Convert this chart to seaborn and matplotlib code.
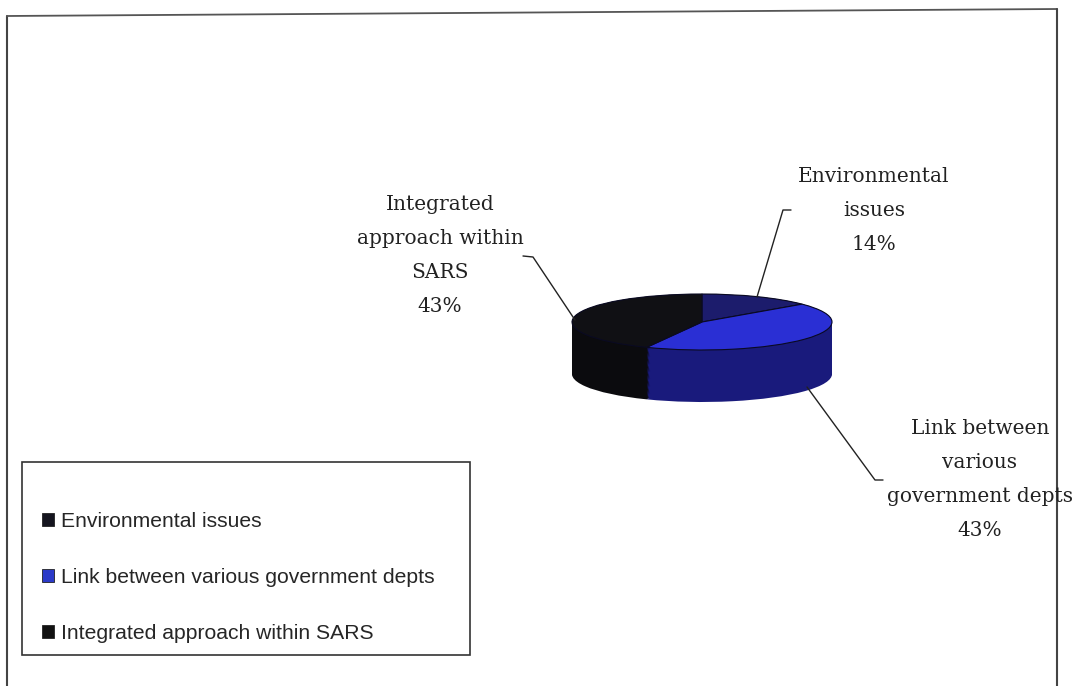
import matplotlib
matplotlib.use("Agg")
import matplotlib.pyplot as plt
from matplotlib.patches import Rectangle
import seaborn as sns

# ---- data ----
categories = ["Environmental issues",
              "Link between various government depts",
              "Integrated approach within SARS"]
shares = [14, 43, 43]
slice_labels = ["Environmental\nissues",
                "Link between\nvarious\ngovernment depts",
                "Integrated\napproach within\nSARS"]

sns.set_theme(style="white")
plt.rcParams["font.family"] = ["DejaVu Sans"]

W, H = 1075, 686
fig = plt.figure(figsize=(W / 100, H / 100), dpi=100)
fig.patch.set_facecolor("white")


def fx(x):
    return x / W


def fy(y):
    return 1 - y / H


top_colors = ["#1c1c6c", "#2a2fd4", "#101014"]
side_colors = ["#14144f", "#191a7c", "#0b0b0e"]

# ---- 3D-looking pie ----
cx, cy, rx, ry, thick = 702, 322, 130, 28, 52
ax = fig.add_axes([fx(cx - rx), fy(cy + thick + ry), 2 * rx / W, (2 * ry + thick) / H])
t = thick / ry
n = 45
for k in range(n + 1):
    off = -t + t * k / n
    ax.pie(shares, colors=side_colors, startangle=90, counterclock=False,
           center=(0, off), radius=1, wedgeprops=dict(linewidth=0))
wedges, _ = ax.pie(shares, colors=top_colors, startangle=90, counterclock=False,
                   center=(0, 0), radius=1,
                   wedgeprops=dict(linewidth=0.8, edgecolor="#0a0a22"))
ax.set_xlim(-1, 1)
ax.set_ylim(-1 - t, 1)
ax.set_aspect("auto")
ax.axis("off")

# ---- overlay for labels, leader lines, frame ----
ov = fig.add_axes([0, 0, 1, 1], facecolor="none")
ov.set_xlim(0, W)
ov.set_ylim(H, 0)
ov.axis("off")

serif = dict(family="DejaVu Serif", size=14.5, color="#222222",
             ha="center", va="center", linespacing=2.0)

# Environmental issues
ov.plot([757, 783, 791], [297, 210, 210], color="#222222", lw=1)
ov.text(874, 210, f"{slice_labels[0]}\n{shares[0]}%", **serif)
# Integrated approach
ov.plot([575, 533, 523], [320, 257, 256], color="#222222", lw=1)
ov.text(440, 256, f"{slice_labels[2]}\n{shares[2]}%", **serif)
# Link between
ov.plot([807, 875, 883], [387, 480, 480], color="#222222", lw=1)
ov.text(980, 479, f"{slice_labels[1]}\n{shares[1]}%", **serif)

# outer frame
ov.plot([7, 7], [686, 16], color="#444444", lw=1.5)
ov.plot([7, 1057], [16, 9], color="#555555", lw=1.3)
ov.plot([1057, 1057], [9, 686], color="#444444", lw=1.5)

# legend box
fig.patches.append(Rectangle((fx(22), fy(655)), fx(470) - fx(22), fy(462) - fy(655),
                             transform=fig.transFigure, fill=False,
                             edgecolor="#333333", lw=1.2))
leg_colors = ["#15151f", "#2b3ac8", "#111111"]
handles = [Rectangle((0, 0), 1, 1, facecolor=c, edgecolor="#222222", lw=0.6) for c in leg_colors]
fig.legend(handles, categories, loc="upper left",
           bbox_to_anchor=(fx(42), fy(512)), frameon=False,
           prop=dict(family="Liberation Sans", size=15.2),
           handlelength=0.55, handleheight=0.55, handletextpad=0.35,
           labelspacing=1.75, borderpad=0, borderaxespad=0)

fig.savefig("out.png", dpi=100, facecolor="white")
